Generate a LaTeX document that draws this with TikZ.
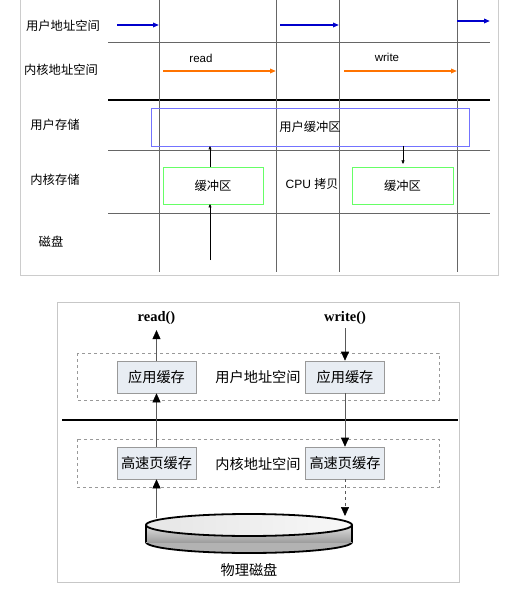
\documentclass[tikz,border=0pt]{standalone}
\usepackage{fontspec}
\setmainfont{Liberation Serif}
\setsansfont{Liberation Sans}
\newfontfamily\cjk{Noto Sans CJK SC}
\usetikzlibrary{arrows.meta}
\definecolor{cachefill}{RGB}{232,237,243}

\begin{document}
\begin{tikzpicture}[x=1pt,y=-1pt,
    gridline/.style={draw=black!60, line width=0.6pt},
    rowlbl/.style={font=\fontsize{12.3}{13}\selectfont\cjk},
    callarrow/.style={line width=1.6pt, -{Triangle[length=6pt,width=4.5pt]}},
    smallarrow/.style={line width=0.5pt, -{Triangle[length=3.5pt,width=3pt]}},
    bufbox/.style={draw=green!60, line width=0.6pt, minimum height=37pt, font=\fontsize{12.3}{13}\selectfont\cjk},
    cachebox/.style={draw=black!40, fill=cachefill, line width=0.6pt, minimum width=79pt, minimum height=32pt, inner sep=0pt, font=\fontsize{14.2}{15}\selectfont\cjk},
    spacebox/.style={draw=black!40, dashed, line width=0.6pt},
    flow/.style={draw=black!65, line width=0.6pt, -{Triangle[length=9pt,width=8pt,color=black]}}]
    \useasboundingbox (0,0) rectangle (509,601);

    % upper picture
    \draw[black!20] (20,-1) -- (20,275) -- (498,275) -- (498,-1);
    \foreach \y in {42,150,213}
        \draw[gridline] (108,\y) -- (490,\y);
    \draw[line width=2pt] (108,100) -- (490,100);
    \foreach \x in {159,276,339,457}
        \draw[gridline] (\x,0) -- (\x,272);

    \node[rowlbl] (uaddr) at (63,26) {用户地址空间};
    \node[rowlbl] (kaddr) at (61,70) {内核地址空间};
    \node[rowlbl] (ustore) at (55,125) {用户存储};
    \node[rowlbl] (kstore) at (55,180) {内核存储};
    \node[rowlbl] (dstore) at (51,242) {磁盘};

    \coordinate (b1s) at (117,25); \coordinate (b1e) at (159,25);
    \coordinate (b2s) at (280,25); \coordinate (b2e) at (339,25);
    \coordinate (b3s) at (457,21); \coordinate (b3e) at (490,21);
    \foreach \s/\e in {b1s/b1e,b2s/b2e,b3s/b3e}
        \draw[callarrow, blue!80!black] (\s) -- (\e);
    \coordinate (o1s) at (163,71); \coordinate (o1e) at (276,71);
    \coordinate (o2s) at (344,71); \coordinate (o2e) at (457,71);
    \draw[callarrow, orange!90!red] (o1s) -- (o1e);
    \draw[callarrow, orange!90!red] (o2s) -- (o2e);
    \node[font=\sffamily\fontsize{11.5}{12}\selectfont] (rd) at (201,58) {read};
    \node[font=\sffamily\fontsize{11.5}{12}\selectfont] (wr) at (387,57) {write};

    \node[draw=blue!55, line width=0.6pt, minimum width=318pt, minimum height=38pt,
        font=\fontsize{12.3}{13}\selectfont\cjk] (ubuf) at (310,127) {用户缓冲区};
    \node[bufbox, minimum width=100pt] (kbuf1) at (213,185.5) {缓冲区};
    \node[bufbox, minimum width=101pt] (kbuf2) at (402.5,185.5) {缓冲区};
    \node[font=\fontsize{12}{13}\selectfont] (cpu) at (312,184) {\sffamily CPU {\cjk 拷贝}};

    \coordinate (d1) at (210,260);
    \coordinate (k1b) at (210,204); \coordinate (k1t) at (210,167);
    \coordinate (u1b) at (210,146); \coordinate (u2b) at (403,146);
    \coordinate (k2t) at (403,164);
    \draw[smallarrow] (d1) -- (k1b);
    \draw[smallarrow] (k1t) -- (u1b);
    \draw[smallarrow] (u2b) -- (k2t);

    % lower picture
    \draw[black!22] (57,302) rectangle (459,582);
    \draw[spacebox] (77,353) rectangle (439,400);
    \draw[spacebox] (77,439) rectangle (439,487);
    \draw[line width=2pt] (62,420) -- (458,420);

    \node[font=\bfseries\fontsize{14.5}{15}\selectfont] (rcall) at (156.5,318) {read()};
    \node[font=\bfseries\fontsize{14.5}{15}\selectfont] (wcall) at (345,318) {write()};
    \node[cachebox] (app1) at (156.5,377) {应用缓存};
    \node[cachebox] (app2) at (345,377) {应用缓存};
    \node[cachebox] (page1) at (156.5,463) {高速页缓存};
    \node[cachebox] (page2) at (345,463) {高速页缓存};
    \node[font=\fontsize{14.2}{15}\selectfont\cjk] (uspace) at (258,377) {用户地址空间};
    \node[font=\fontsize{14.2}{15}\selectfont\cjk] (kspace) at (258,464) {内核地址空间};

    % disk
    \filldraw[fill=black!30, line width=1.8pt] (249,542) ellipse [x radius=103, y radius=11];
    \shade[top color=black!12, bottom color=black!38] (146,525) rectangle (352,542);
    \draw[line width=1.8pt] (146,525) -- (146,542) (352,525) -- (352,542);
    \shade[draw=black, line width=1.8pt, left color=black!10, right color=black!3]
        (249,525) ellipse [x radius=103, y radius=11];
    \node[font=\fontsize{14.2}{15}\selectfont\cjk] (disk) at (249,570) {物理磁盘};
    \coordinate (dtop1) at (156.5,518);
    \coordinate (dtop2) at (345,516);

    \draw[flow] (dtop1) -- (page1.south);
    \draw[flow] (page1.north) -- (app1.south);
    \draw[flow] (app1.north) -- ([yshift=-2pt]rcall.south);
    \draw[flow] (wcall.south) -- (app2.north);
    \draw[flow] (app2.south) -- (page2.north);
    \draw[flow, dashed] (page2.south) -- (dtop2);
\end{tikzpicture}
\end{document}
